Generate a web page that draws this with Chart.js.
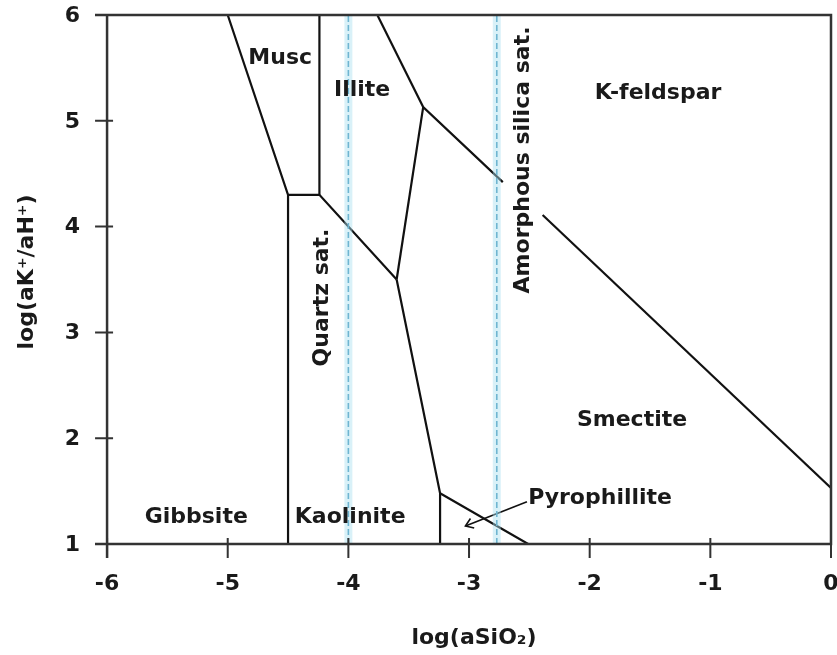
<!DOCTYPE html>
<html>
<head>
<meta charset="utf-8">
<script src="https://cdn.jsdelivr.net/npm/chart.js@4/dist/chart.umd.min.js"></script>
<style>
  html, body { margin: 0; padding: 0; background: #fff; }
  #wrap { width: 837px; height: 655px; }
</style>
</head>
<body>
<div id="wrap"><canvas id="chart" width="837" height="655"></canvas></div>
<script>
// tick labels
var xTicks = [-6, -5, -4, -3, -2, -1, 0];
var yTicks = [1, 2, 3, 4, 5, 6];

// phase boundaries, log(aSiO2) vs log(aK+/aH+)
var gibbsiteX = [-5.0, -4.5, -4.5];
var gibbsiteY = [6, 4.3, 1];
var muscIlliteX = [-4.24, -4.24];
var muscIlliteY = [6, 4.3];
var kaoliniteTopX = [-4.5, -4.24, -3.6];
var kaoliniteTopY = [4.3, 4.3, 3.5];
var illiteSmectiteX = [-3.6, -3.38];
var illiteSmectiteY = [3.5, 5.13];
var illiteKsparX = [-3.76, -3.38, -2.72];
var illiteKsparY = [6, 5.13, 4.42];
var kaoliniteRightX = [-3.6, -3.24, -2.51];
var kaoliniteRightY = [3.5, 1.48, 1.0];
var pyroLeftX = [-3.24, -3.24];
var pyroLeftY = [1.48, 1.0];
var ksparSmectiteX = [-2.39, 0];
var ksparSmectiteY = [4.11, 1.53];

// saturation lines
var quartzSat = -4.0;
var amorphSat = -2.77;

// pyrophillite pointer
var arrowX = [-2.52, -3.03];
var arrowY = [1.40, 1.17];

// field names
var labelText = ['Musc', 'Illite', 'K-feldspar', 'Smectite', 'Pyrophillite', 'Gibbsite', 'Kaolinite', 'Quartz sat.', 'Amorphous silica sat.'];
var labelX = [-4.565, -3.886, -1.433, -1.649, -1.914, -5.261, -3.985, -4.217, -2.552];
var labelY = [5.59, 5.29, 5.26, 2.17, 1.43, 1.255, 1.255, 3.33, 4.63];
var labelRot = [0, 0, 0, 0, 0, 0, 0, -90, -90];

var FONT = 'bold 22px "DejaVu Sans"';
var INK = '#1a1a1a';

function pts(xs, ys) {
  return xs.map(function(x, i) { return { x: x, y: ys[i] }; });
}

function line(xs, ys) {
  return {
    data: pts(xs, ys),
    borderColor: '#111',
    borderWidth: 2.2,
    pointRadius: 0,
    fill: false,
    tension: 0
  };
}

function satLine(x) {
  return [{
    data: pts([x, x], [1, 6]),
    borderColor: 'rgba(170, 225, 240, 0.45)',
    borderWidth: 8,
    pointRadius: 0
  }, {
    data: pts([x, x], [1, 6]),
    borderColor: '#3f93b8',
    borderWidth: 1.6,
    borderDash: [6, 3],
    pointRadius: 0
  }];
}

var datasets = []
  .concat(satLine(quartzSat))
  .concat(satLine(amorphSat))
  .concat([
    line(gibbsiteX, gibbsiteY),
    line(muscIlliteX, muscIlliteY),
    line(kaoliniteTopX, kaoliniteTopY),
    line(illiteSmectiteX, illiteSmectiteY),
    line(illiteKsparX, illiteKsparY),
    line(kaoliniteRightX, kaoliniteRightY),
    line(pyroLeftX, pyroLeftY),
    line(ksparSmectiteX, ksparSmectiteY)
  ]);

var arrowSet = line(arrowX, arrowY);
arrowSet.borderWidth = 1.6;
arrowSet.isArrow = true;
datasets.push(arrowSet);

// frame, crossing ticks, tick labels, axis titles, field names
var decor = {
  id: 'decor',
  afterDatasetsDraw: function(chart) {
    var ctx = chart.ctx;
    var xs = chart.scales.x, ys = chart.scales.y;
    var a = chart.chartArea;
    var X = function(v) { return xs.getPixelForValue(v); };
    var Y = function(v) { return ys.getPixelForValue(v); };

    ctx.save();
    // arrow head
    chart.data.datasets.forEach(function(ds) {
      if (!ds.isArrow) return;
      var n = ds.data.length;
      var p1 = ds.data[n - 2], p2 = ds.data[n - 1];
      var x1 = X(p1.x), y1 = Y(p1.y), x2 = X(p2.x), y2 = Y(p2.y);
      var ang = Math.atan2(y2 - y1, x2 - x1);
      ctx.strokeStyle = '#111';
      ctx.lineWidth = 1.6;
      ctx.beginPath();
      ctx.moveTo(x2 - 9 * Math.cos(ang - 0.6), y2 - 9 * Math.sin(ang - 0.6));
      ctx.lineTo(x2, y2);
      ctx.lineTo(x2 - 9 * Math.cos(ang + 0.6), y2 - 9 * Math.sin(ang + 0.6));
      ctx.stroke();
    });

    // frame
    ctx.strokeStyle = '#333';
    ctx.lineWidth = 2.5;
    ctx.beginPath();
    ctx.moveTo(a.left, Y(6)); ctx.lineTo(X(0), Y(6));
    ctx.lineTo(X(0), Y(1)); ctx.lineTo(a.left, Y(1));
    ctx.moveTo(X(-6), Y(6)); ctx.lineTo(X(-6), Y(1) + 14);
    ctx.stroke();

    // ticks
    ctx.lineWidth = 2;
    ctx.beginPath();
    xTicks.forEach(function(v) {
      ctx.moveTo(X(v), Y(1) - 6); ctx.lineTo(X(v), Y(1) + 14);
    });
    yTicks.forEach(function(v) {
      ctx.moveTo(X(-6) - 12, Y(v)); ctx.lineTo(X(-6) + 6, Y(v));
    });
    ctx.stroke();

    ctx.fillStyle = INK;
    ctx.font = FONT;
    ctx.textBaseline = 'middle';
    ctx.textAlign = 'center';
    xTicks.forEach(function(v) {
      ctx.fillText(String(v), X(v), Y(1) + 40);
    });
    ctx.textAlign = 'right';
    yTicks.forEach(function(v) {
      ctx.fillText(String(v), X(-6) - 27, Y(v) + 1);
    });

    // axis titles
    ctx.textAlign = 'center';
    ctx.fillText('log(aSiO\u2082)', 474, 638);
    ctx.save();
    ctx.translate(27, 272);
    ctx.rotate(-Math.PI / 2);
    ctx.fillText('log(aK\u207A/aH\u207A)', 0, 0);
    ctx.restore();

    // field names
    labelText.forEach(function(t, i) {
      ctx.save();
      ctx.translate(X(labelX[i]), Y(labelY[i]));
      ctx.rotate(labelRot[i] * Math.PI / 180);
      ctx.fillText(t, 0, 0);
      ctx.restore();
    });
    ctx.restore();
  }
};

new Chart(document.getElementById('chart'), {
  type: 'line',
  data: { datasets: datasets },
  options: {
    responsive: false,
    animation: false,
    events: [],
    layout: { padding: { left: 95, right: 6, top: 15, bottom: 111 } },
    plugins: { legend: { display: false }, tooltip: { enabled: false } },
    scales: {
      x: { type: 'linear', min: -6.1, max: 0, display: false },
      y: { type: 'linear', min: 1, max: 6, display: false }
    }
  },
  plugins: [decor]
});
</script>
</body>
</html>
